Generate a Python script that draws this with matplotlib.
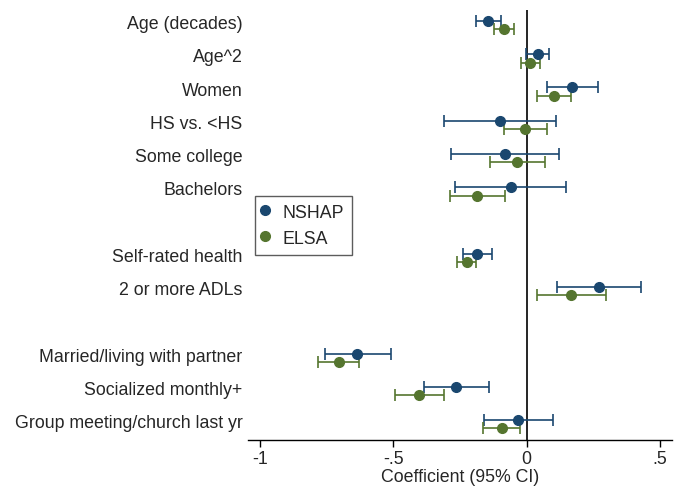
import matplotlib
matplotlib.use("Agg")
import matplotlib.pyplot as plt
from matplotlib.lines import Line2D

plt.rcParams['font.family'] = ['Liberation Sans', 'DejaVu Sans']

labels = ["Age (decades)", "Age^2", "Women", "HS vs. <HS", "Some college", "Bachelors",
          "Self-rated health", "2 or more ADLs",
          "Married/living with partner", "Socialized monthly+", "Group meeting/church last yr"]
rows = [1, 2, 3, 4, 5, 6, 8, 9, 11, 12, 13]

nshap_est = [-0.145, 0.041, 0.171, -0.099, -0.080, -0.060, -0.185, 0.271, -0.634, -0.265, -0.031]
nshap_lo = [-0.191, -0.004, 0.077, -0.309, -0.282, -0.268, -0.239, 0.112, -0.755, -0.386, -0.159]
nshap_hi = [-0.097, 0.084, 0.267, 0.110, 0.122, 0.147, -0.130, 0.428, -0.509, -0.142, 0.097]

elsa_est = [-0.085, 0.014, 0.102, -0.005, -0.035, -0.186, -0.225, 0.167, -0.704, -0.403, -0.094]
elsa_lo = [-0.122, -0.022, 0.037, -0.086, -0.137, -0.288, -0.260, 0.039, -0.780, -0.494, -0.164]
elsa_hi = [-0.048, 0.050, 0.167, 0.075, 0.069, -0.082, -0.191, 0.297, -0.627, -0.311, -0.025]

xticks = [-1, -0.5, 0, 0.5]
xticklabels = ["-1", "-.5", "0", ".5"]

c_nshap = "#1a476f"
c_elsa = "#55752f"
fs = 12.8
tc = "#262626"

fig = plt.figure(figsize=(6.83, 4.89), dpi=100)
ax = fig.add_axes([248/683, 1-440.7/489, (671.7-248)/683, (440.7-11)/489])

ax.axvline(0, color="black", lw=1.2, zorder=1)

def draw(est, lo, hi, off, color):
    ys = [r + off for r in rows]
    xerr = [[e - l for e, l in zip(est, lo)], [h - e for e, h in zip(est, hi)]]
    ax.errorbar(est, ys, xerr=xerr, fmt="o", color=color, ecolor=color,
                markersize=7, elinewidth=1.2, capsize=4.5, capthick=1.2, zorder=3)

draw(nshap_est, nshap_lo, nshap_hi, 0.0, c_nshap)
draw(elsa_est, elsa_lo, elsa_hi, 0.25, c_elsa)

ax.set_ylim(13.59, 0.67)
ax.set_xlim(-1.044, 0.543)
ax.set_yticks([r + 0.02 for r in rows])
ax.set_yticklabels(labels, fontsize=fs, color=tc)
ax.tick_params(axis="y", length=0, pad=4)
ax.set_xticks(xticks)
ax.set_xticklabels(xticklabels, fontsize=fs, color=tc)
ax.tick_params(axis="x", length=5, width=1, pad=2.5)
ax.set_xlabel("Coefficient (95% CI)", fontsize=fs, color=tc, labelpad=0.5)

for s in ["top", "right", "left"]:
    ax.spines[s].set_visible(False)
ax.spines["bottom"].set_linewidth(1)

handles = [Line2D([], [], marker="o", ls="none", color=c_nshap, markersize=7),
           Line2D([], [], marker="o", ls="none", color=c_elsa, markersize=7)]
leg = fig.legend(handles, ["NSHAP", "ELSA"], loc="upper left",
                 bbox_to_anchor=(255/683, 1-196.7/489), bbox_transform=fig.transFigure,
                 fontsize=fs, frameon=True, fancybox=False, borderaxespad=0,
                 handletextpad=0.9, handlelength=0.2, borderpad=0.45, labelspacing=0.5)
for t in leg.get_texts():
    t.set_color(tc)
leg.get_frame().set_edgecolor("#333333")
leg.get_frame().set_linewidth(1)

fig.savefig("out.png", dpi=100)
